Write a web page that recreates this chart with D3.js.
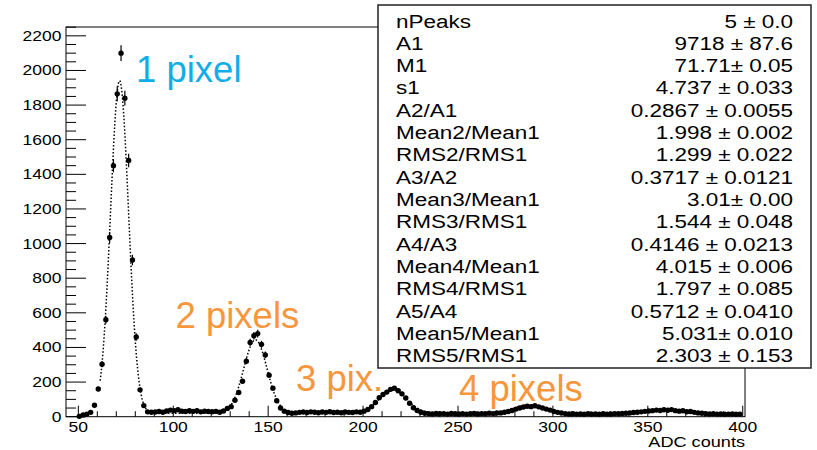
<!DOCTYPE html>
<html>
<head>
<meta charset="utf-8">
<script src="https://cdn.jsdelivr.net/npm/d3@7"></script>
<style>
  html, body { margin: 0; padding: 0; background: #fff; }
  svg { display: block; }
  text { font-family: "Liberation Sans", Arial, Helvetica, sans-serif; }
</style>
</head>
<body>
<svg id="chart" width="817" height="450"></svg>
<script>
// Histogram binning: 175 bins of width 2 starting at 49.5 ADC counts
const binStart = 49.5;
const binWidth = 2;

// Entries per bin
const counts = [
  2, 10, 15, 25, 66, 160, 303, 560, 1035, 1450, 1865, 2100, 1840, 1480, 905, 460, 155, 64, 28, 26,
  27, 30, 26, 33, 38, 35, 40, 32, 30, 34, 31, 35, 28, 32, 30, 29, 31, 26, 33,
  48, 58, 95, 140, 205, 321, 429, 468, 480, 418, 357, 240, 165, 92, 50, 32, 24,
  20, 22, 25, 27, 24, 28, 26, 23, 27, 25, 29, 24, 26, 23, 27, 25, 24, 28, 26,
  32, 42, 58, 82, 110, 128, 142, 158, 165, 150, 132, 108, 78, 52, 36, 26, 20,
  18, 16, 19, 17, 18, 15, 19, 17, 16, 18, 15, 17, 19, 16, 18, 17, 20, 18, 21, 22, 26, 30,
  36, 44, 50, 56, 60, 58, 63, 57, 50, 44, 38, 30, 25, 21,
  18, 16, 17, 15, 16, 14, 17, 15, 16, 14, 17, 15, 16, 18, 17, 19, 20, 22, 24,
  26, 28, 31, 33, 35, 38, 36, 40, 37, 41, 35, 32, 34, 29, 30, 25, 22, 20,
  18, 16, 17, 15, 16, 14, 15, 16, 14, 15
];

// Fit result (multi-peak Gaussian model)
const statLabels = ["nPeaks", "A1", "M1", "s1", "A2/A1", "Mean2/Mean1", "RMS2/RMS1",
  "A3/A2", "Mean3/Mean1", "RMS3/RMS1", "A4/A3", "Mean4/Mean1", "RMS4/RMS1",
  "A5/A4", "Mean5/Mean1", "RMS5/RMS1"];
const statValues = ["5 \u00b1 0.0", "9718 \u00b1 87.6", "71.71\u00b1 0.05", "4.737 \u00b1 0.033",
  "0.2867 \u00b1 0.0055", "1.998 \u00b1 0.002", "1.299 \u00b1 0.022", "0.3717 \u00b1 0.0121",
  "3.01\u00b1 0.00", "1.544 \u00b1 0.048", "0.4146 \u00b1 0.0213", "4.015 \u00b1 0.006",
  "1.797 \u00b1 0.085", "0.5712 \u00b1 0.0410", "5.031\u00b1 0.010", "2.303 \u00b1 0.153"];

const mean1 = 71.71;
const sigma1 = 4.737;
const ampRatios = [0.2867, 0.3717, 0.4146, 0.5712];   // A(k+1)/A(k)
const meanRatios = [1.998, 3.01, 4.015, 5.031];       // Mean(k)/Mean1
const rmsRatios = [1.299, 1.544, 1.797, 2.303];       // RMS(k)/RMS1
const peak1Height = 1922;
const fitBackground = 20;
const fitRange = [61.5, 400];

// Axis ticks
const xTicks = [50, 100, 150, 200, 250, 300, 350, 400];
const yTicks = [0, 200, 400, 600, 800, 1000, 1200, 1400, 1600, 1800, 2000, 2200];
const xTitle = "ADC counts";

// Annotations
const peakLabels = ["1 pixel", "2 pixels", "3 pix.", "4 pixels"];
const peakLabelColors = ["#12ADE8", "#F7963C", "#F7963C", "#F7963C"];

// ---------------------------------------------------------------
const svg = d3.select("#chart");
const frame = { left: 66, right: 745, top: 27, bottom: 416.7 };
const textStretch = 1.25;

const x = d3.scaleLinear().domain([43.5, 401.2]).range([frame.left, frame.right]);
const y = d3.scaleLinear().domain([0, 2251]).range([frame.bottom, frame.top]);

const bins = counts.map((c, i) => ({ x: binStart + (i + 0.5) * binWidth, c }));

// Fit model: sum of Gaussians on a flat background
const peaks = [{ m: mean1, s: sigma1, h: 1 }];
let area = 1;
for (let k = 0; k < ampRatios.length; k++) {
  area *= ampRatios[k];
  peaks.push({ m: mean1 * meanRatios[k], s: sigma1 * rmsRatios[k], h: area / rmsRatios[k] });
}
const fitFn = v => fitBackground + peaks.reduce((acc, p) =>
  acc + peak1Height * p.h * Math.exp(-((v - p.m) ** 2) / (2 * p.s * p.s)), 0);
const fitPts = d3.range(fitRange[0], fitRange[1] + 0.001, 0.5).map(v => [v, fitFn(v)]);

// Frame
svg.append("rect")
  .attr("x", frame.left).attr("y", frame.top)
  .attr("width", frame.right - frame.left).attr("height", frame.bottom - frame.top)
  .attr("fill", "none").attr("stroke", "#000").attr("stroke-width", 1);

// Y axis ticks (drawn inward, ROOT style)
const yMinor = d3.range(0, 2251, 50);
svg.append("g").selectAll("line").data(yMinor).join("line")
  .attr("x1", frame.left).attr("x2", d => frame.left + (d % 200 === 0 ? 20 : 10))
  .attr("y1", d => y(d)).attr("y2", d => y(d))
  .attr("stroke", "#000").attr("stroke-width", 1);
svg.append("g").selectAll("text").data(yTicks).join("text")
  .attr("transform", d => `translate(61.5,${y(d) + 5}) scale(${textStretch},1)`)
  .attr("text-anchor", "end").attr("font-size", 14).attr("fill", "#000")
  .text(d => d);

// X axis ticks
const xMinor = d3.range(50, 401, 10);
svg.append("g").selectAll("line").data(xMinor).join("line")
  .attr("x1", d => x(d)).attr("x2", d => x(d))
  .attr("y1", frame.bottom).attr("y2", d => frame.bottom - (d % 50 === 0 ? 11 : 5.5))
  .attr("stroke", "#000").attr("stroke-width", 1);
svg.append("g").selectAll("text").data(xTicks).join("text")
  .attr("transform", d => `translate(${x(d)},432) scale(${textStretch},1)`)
  .attr("text-anchor", "middle").attr("font-size", 14).attr("fill", "#000")
  .text(d => d);
svg.append("text")
  .attr("transform", `translate(${frame.right},447) scale(${textStretch},1)`)
  .attr("text-anchor", "end").attr("font-size", 14.5).attr("fill", "#000")
  .text(xTitle);

// Fit curve (dotted)
svg.append("path")
  .datum(fitPts)
  .attr("d", d3.line().x(d => x(d[0])).y(d => y(d[1])))
  .attr("fill", "none").attr("stroke", "#000").attr("stroke-width", 1.5)
  .attr("stroke-dasharray", "1.5,2");

// Data points with error bars
const pts = svg.append("g");
pts.selectAll("line.ey").data(bins).join("line").attr("class", "ey")
  .attr("x1", d => x(d.x)).attr("x2", d => x(d.x))
  .attr("y1", d => y(d.c + Math.sqrt(d.c))).attr("y2", d => y(Math.max(0, d.c - Math.sqrt(d.c))))
  .attr("stroke", "#000").attr("stroke-width", 1.2);
pts.selectAll("line.ex").data(bins).join("line").attr("class", "ex")
  .attr("x1", d => x(d.x - binWidth / 2)).attr("x2", d => x(d.x + binWidth / 2))
  .attr("y1", d => y(d.c)).attr("y2", d => y(d.c))
  .attr("stroke", "#000").attr("stroke-width", 1.2);
pts.selectAll("circle").data(bins).join("circle")
  .attr("cx", d => x(d.x)).attr("cy", d => y(d.c)).attr("r", 2.7)
  .attr("fill", "#000");

// Fit statistics box
const box = { x: 378, y: 5, w: 433, h: 363 };
svg.append("rect")
  .attr("x", box.x).attr("y", box.y).attr("width", box.w).attr("height", box.h)
  .attr("fill", "#fff").attr("stroke", "#222").attr("stroke-width", 1.5);
const rowStep = 22.33;
svg.append("g").selectAll("text").data(statLabels).join("text")
  .attr("transform", (d, i) => `translate(396,${27.5 + i * rowStep}) scale(${textStretch},1)`)
  .attr("font-size", 18).attr("fill", "#000")
  .text(d => d);
svg.append("g").selectAll("text").data(statValues).join("text")
  .attr("transform", (d, i) => `translate(793,${27.5 + i * rowStep}) scale(${textStretch},1)`)
  .attr("text-anchor", "end").attr("font-size", 18).attr("fill", "#000")
  .text(d => d);

// Peak annotations
const labelPos = [[136, 81.7], [175.5, 328.3], [296, 391], [459, 400.7]];
svg.append("g").selectAll("text").data(peakLabels).join("text")
  .attr("x", (d, i) => labelPos[i][0]).attr("y", (d, i) => labelPos[i][1])
  .attr("font-size", 36.5).attr("fill", (d, i) => peakLabelColors[i])
  .text(d => d);
</script>
</body>
</html>
